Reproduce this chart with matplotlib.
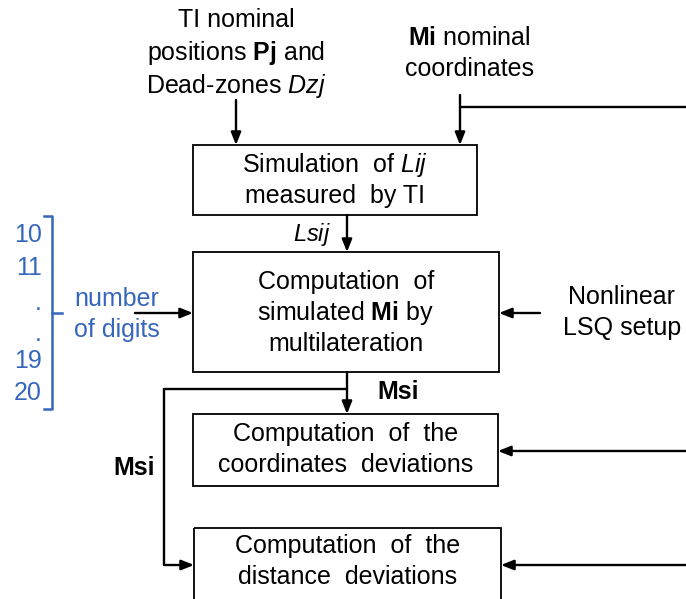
import matplotlib.pyplot as plt
from matplotlib.patches import Rectangle

plt.rcParams['font.family'] = ['Liberation Sans', 'DejaVu Sans']
plt.rcParams['mathtext.fontset'] = 'custom'
plt.rcParams['mathtext.rm'] = 'Liberation Sans'
plt.rcParams['mathtext.it'] = 'Liberation Sans:italic'
plt.rcParams['mathtext.bf'] = 'Liberation Sans:bold'

# box texts (two lines each)
box_texts = [
    ["Simulation  of $\\mathit{Lij}$", "measured  by TI"],
    ["Computation  of", "simulated $\\mathbf{Mi}$ by", "multilateration"],
    ["Computation  of  the", "coordinates  deviations"],
    ["Computation  of  the", "distance  deviations"],
]
input_tl = ["TI nominal", "positions $\\mathbf{Pj}$ and", "Dead-zones $\\mathit{Dzj}$"]
input_mi = ["$\\mathbf{Mi}$ nominal", "coordinates"]
lsq_text = ["Nonlinear", "LSQ setup"]
digits = ["10", "11", ".", ".", "19", "20"]
digits_label = ["number", "of digits"]

# box geometry in pixels (x0, y0, x1, y1)
boxes = [(193, 145, 477, 215), (193, 252, 499, 372), (193, 414, 498, 486), (194, 528, 501, 640)]
blue = '#3567bd'
fs = 18

fig = plt.figure(figsize=(6.86, 5.99), dpi=100)
ax = fig.add_axes([0, 0, 1, 1])
ax.set_xlim(0, 686)
ax.set_ylim(599, 0)
ax.axis('off')

line_h = 31
for (x0, y0, x1, y1), lines in zip(boxes, box_texts):
    ax.add_patch(Rectangle((x0, y0), x1 - x0, y1 - y0, fill=False, lw=1.3, ec='black'))
    cx = (x0 + x1) / 2
    top = y0 + 20 if len(lines) == 2 else y0 + 30
    if y1 > 599:
        top = y0 + 18
    for k, t in enumerate(lines):
        ax.text(cx, top + k * line_h, t, ha='center', va='center', fontsize=fs)

def arrow(x0, y0, x1, y1):
    ax.annotate('', xy=(x1, y1), xytext=(x0, y0),
                arrowprops=dict(arrowstyle='-|>,head_length=0.75,head_width=0.3', lw=1.7, color='black',
                                shrinkA=0, shrinkB=0))

def seg(xs, ys):
    ax.plot(xs, ys, color='black', lw=1.7, solid_capstyle='butt')

# top inputs
for k, t in enumerate(input_tl):
    ax.text(236, 20 + k * 33, t, ha='center', va='center', fontsize=fs)
for k, t in enumerate(input_mi):
    ax.text(469, 38 + k * 31, t, ha='center', va='center', fontsize=fs)
arrow(236, 100, 236, 145)
arrow(460, 95, 460, 145)
seg([460, 686], [107, 107])

# Lsij
arrow(347, 215, 347, 252)
ax.text(312, 234, "$\\mathit{Lsij}$", ha='center', va='center', fontsize=17)

# side inputs
arrow(135, 313, 193, 313)
arrow(540, 313, 499, 313)
for k, t in enumerate(lsq_text):
    ax.text(622, 297 + k * 31, t, ha='center', va='center', fontsize=fs)

# Msi branches
arrow(347, 372, 347, 414)
seg([164, 347], [389, 389])
seg([164, 164], [388, 565])
arrow(164, 565, 194, 565)
ax.text(398, 392, "Msi", ha='center', va='center', fontsize=18, fontweight='bold')
ax.text(134, 468, "Msi", ha='center', va='center', fontsize=18, fontweight='bold')

# right feedback arrows
arrow(686, 451, 498, 451)
arrow(686, 565, 501, 565)

# digits bracket
digit_y = [235, 268, 303, 334, 361, 393]
for y, t in zip(digit_y, digits):
    ax.text(42, y, t, ha='right', va='center', fontsize=fs, color=blue)
ax.plot([44, 52, 52, 44], [216, 216, 409, 409], color=blue, lw=1.8)
ax.plot([52, 62], [313, 313], color=blue, lw=1.8)
for k, t in enumerate(digits_label):
    ax.text(117, 299 + k * 31, t, ha='center', va='center', fontsize=fs, color=blue)

fig.savefig('out.png', dpi=100)
